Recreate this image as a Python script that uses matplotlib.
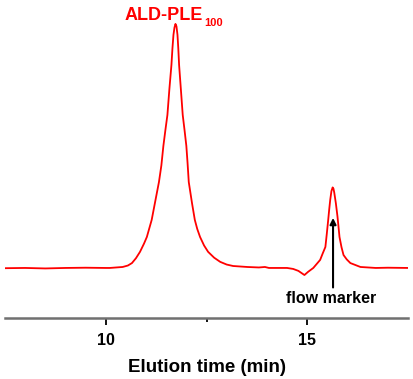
import numpy as np
import matplotlib
matplotlib.use('Agg')
import matplotlib.pyplot as plt
from matplotlib.ticker import FixedLocator

plt.rcParams['font.family'] = ['Liberation Sans', 'DejaVu Sans']

# elution time (min) and detector signal (normalised)
time = [7.5, 8.0, 8.5, 9.0, 9.5, 10.0, 10.1, 10.42, 10.55, 10.65, 10.75, 10.85,
        10.95, 11.02, 11.14, 11.22, 11.32, 11.38, 11.43, 11.48, 11.53, 11.58,
        11.63, 11.655, 11.68, 11.705, 11.73, 11.755, 11.78, 11.80, 11.82,
        11.865, 11.91, 11.955, 12.0, 12.03, 12.06, 12.14, 12.21, 12.27, 12.34,
        12.44, 12.54, 12.69, 12.84, 13.0, 13.16, 13.51, 13.8, 13.95, 14.05,
        14.3, 14.5, 14.65, 14.78, 14.93, 15.02, 15.15, 15.32, 15.38, 15.45,
        15.485, 15.52, 15.545, 15.57, 15.60, 15.63, 15.65, 15.67, 15.71, 15.75,
        15.775, 15.80, 15.85, 15.90, 15.98, 16.07, 16.32, 16.7, 17.0, 17.5]
signal = [-0.001, 0.0, -0.002, 0.0, 0.001, 0.0, 0.0, 0.004, 0.01, 0.02, 0.04,
          0.066, 0.1, 0.127, 0.197, 0.266, 0.352, 0.42, 0.5, 0.565, 0.627,
          0.735, 0.832, 0.9, 0.955, 0.985, 1.0, 0.99, 0.955, 0.9, 0.832, 0.73,
          0.627, 0.565, 0.5, 0.43, 0.352, 0.266, 0.197, 0.16, 0.127, 0.092,
          0.066, 0.042, 0.025, 0.014, 0.008, 0.004, 0.002, 0.004, 0.0, 0.0,
          0.0, -0.004, -0.012, -0.029, -0.016, 0.0, 0.033, 0.058, 0.086, 0.14,
          0.197, 0.24, 0.279, 0.315, 0.33, 0.325, 0.309, 0.265, 0.211, 0.17,
          0.127, 0.085, 0.053, 0.035, 0.02, 0.004, 0.0, 0.001, 0.0]

fig = plt.figure(figsize=(4.13, 3.79), dpi=100)
ax = fig.add_axes([0.0121, 0.161, 0.9758, 0.839])
ax.plot(time, signal, color='#ff0000', lw=1.3)

ax.set_xlim(7.5, 17.5)
ax.set_ylim(-0.205, 1.098)
for s in ['top', 'left', 'right']:
    ax.spines[s].set_visible(False)
ax.spines['bottom'].set_color('#707070')
ax.spines['bottom'].set_linewidth(1.8)
ax.set_yticks([])
ax.set_xticks([10, 15])
ax.xaxis.set_minor_locator(FixedLocator([12.5]))
ax.tick_params(axis='x', which='major', length=5, width=1.3, color='black',
               labelsize=11.5, pad=6)
ax.tick_params(axis='x', which='minor', length=3, width=1.3, color='black')
for lab in ax.get_xticklabels():
    lab.set_fontweight('bold')
ax.set_xlabel('Elution time (min)', fontsize=13.5, fontweight='bold', labelpad=8)

ax.text(10.47, 1.016, 'ALD-PLE', color='#ff0000', fontsize=13, fontweight='bold',
        va='baseline', ha='left')
ax.text(12.44, 0.992, '100', color='#ff0000', fontsize=8, fontweight='bold',
        va='baseline', ha='left')

ax.annotate('', xy=(15.64, 0.205), xytext=(15.64, -0.08),
            arrowprops=dict(arrowstyle='-|>', color='black', lw=1.5,
                            mutation_scale=9, shrinkA=0, shrinkB=0))
ax.text(15.6, -0.125, 'flow marker', fontsize=11.5, fontweight='bold',
        ha='center', va='center')

fig.savefig('out.png', dpi=100)
